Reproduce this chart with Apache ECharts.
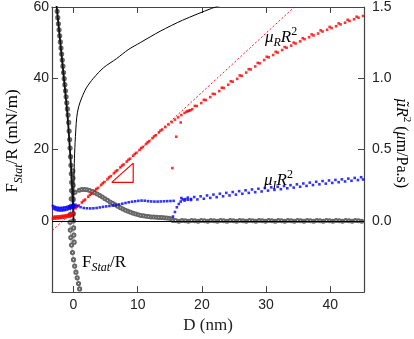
<!DOCTYPE html>
<html><head><meta charset="utf-8">
<script src="https://cdn.jsdelivr.net/npm/echarts@6/dist/echarts.min.js"></script>
<style>html,body{margin:0;padding:0;background:#fff}#c{width:414px;height:339px}</style>
</head><body><div id="c"></div>
<script>
// ---- tick labels ----
const xTicks = [0, 10, 20, 30, 40];
const xRange = [-3.35, 45.25];
const yLeftRange = [-20, 60];
const yRightRange = [-0.5, 1.5];

// ---- F_Stat/R (left axis, mN/m), grey open circles ----
const fApproach = [[-2.65,60.5],[-2.55,58.8],[-2.45,57],[-2.35,55.3],[-2.25,53.6],[-2.15,51.9],[-2.05,50.2],[-1.95,48.5],[-1.85,46.8],[-1.75,45.1],[-1.65,43.4],[-1.55,41.6],[-1.45,39.9],[-1.35,38.2],[-1.25,36.5],[-1.15,34.8],[-1.05,33.1],[-0.95,31.4],[-0.85,29.7],[-0.75,27.6],[-0.68,25.2],[-0.6,22.8],[-0.53,20.4],[-0.46,18],[-0.4,15.6],[-0.34,13.2],[-0.29,10.8],[-0.3,8.5],[-0.35,6.2],[-0.42,4],[-0.48,1.8],[-0.53,-0.4],[-0.5,-2.6],[-0.42,-4.7],[-0.3,-6.8],[-0.16,-8.9],[0.0,-10.9],[0.18,-12.7],[0.38,-14.4],[0.58,-16],[0.78,-17.6],[0.95,-19.1],[1.08,-20.4]];
const fContact = [[-0.1,14],[-0.08,12],[-0.06,10],[-0.05,8],[-0.04,6],[-0.03,4],[-0.02,2],[0,0],[0.02,-2],[0.05,-4],[0.1,-6]];
const fRetract = [[0.25,8.0],[0.9,8.6],[1.3,8.8],[1.7,8.8],[2.1,8.7],[2.5,8.5],[2.9,8.2],[3.3,7.9],[3.7,7.5],[4.1,7.1],[4.5,6.7],[4.9,6.2],[5.3,5.8],[5.7,5.3],[6.1,4.9],[6.5,4.5],[6.9,4.1],[7.3,3.7],[7.7,3.3],[8.1,3.0],[8.5,2.7],[8.9,2.4],[9.3,2.1],[9.7,1.9],[10.1,1.7],[10.5,1.5],[10.9,1.4],[11.3,1.3],[11.7,1.2],[12.1,1.1],[12.5,1.05],[12.9,1.0],[13.3,0.95],[13.7,0.9],[14.1,0.85],[14.5,0.8],[14.9,0.75],[15.3,0.5],[15.5,0.1],
 [15.9,0.1],[16.4,-0.1],[16.9,0.1],[17.4,0],[17.9,-0.1],[18.4,0.1],[18.9,0],[19.4,-0.1],[19.9,0.1],[20.4,0],[20.9,-0.1],[21.4,0.1],[21.9,0],[22.4,-0.1],[22.9,0.1],[23.4,0],[23.9,-0.1],[24.4,0.1],[24.9,0],[25.4,-0.1],[25.9,0.1],[26.4,0],[26.9,-0.1],[27.4,0.1],[27.9,0],[28.4,-0.1],[28.9,0.1],[29.4,0],[29.9,-0.1],[30.4,0.1],[30.9,0],[31.4,-0.1],[31.9,0.1],[32.4,0],[32.9,-0.1],[33.4,0.1],[33.9,0],[34.4,-0.1],[34.9,0.1],[35.4,0],[35.9,-0.1],[36.4,0.1],[36.9,0],[37.4,-0.1],[37.9,0.1],[38.4,0],[38.9,-0.1],[39.4,0.1],[39.9,0],[40.4,-0.1],[40.9,0.1],[41.4,0],[41.9,-0.1],[42.4,0.1],[42.9,0],[43.4,-0.1],[43.9,0.1],[44.4,0],[44.9,-0.1]];
// black lines (left axis)
const steepLine = [[-2.65,60.5],[-1.0,31],[-0.45,17],[-0.2,9],[-0.05,3],[0,0]];
const thinCurve = [[0,0],[0.05,8],[0.12,16],[0.25,22],[0.5,29],[0.8,32],[1.28,34.5],[2,37.3],[3.1,40],[4.7,43],[6.7,45.5],[8.5,48],[10.4,50],[13.5,53.2],[17,56.3],[21.5,59.6],[23.5,60.8]];
const slopeTriangle = [[5.95,10.8],[9.3,16.2],[9.3,10.8],[5.95,10.8]];

// ---- mu_R R^2 (right axis, um/Pa.s), red ----
const muRFit = [[-3.3,-0.068],[34.4,1.5]];
const muRLeftA = [[-3.2,0.015],[-2.95,0.016],[-2.7,0.017],[-2.45,0.018],[-2.2,0.019],[-1.95,0.021],[-1.7,0.022],[-1.45,0.024],[-1.2,0.026],[-0.95,0.028],[-0.7,0.03],[-0.45,0.032],[-0.2,0.036]];
const muRLeftB = [[-3.1,0.028],[-2.85,0.029],[-2.6,0.03],[-2.35,0.031],[-2.1,0.032],[-1.85,0.034],[-1.6,0.035],[-1.35,0.037],[-1.1,0.039],[-0.85,0.042],[-0.6,0.045],[-0.35,0.048],[-0.1,0.053]];
const muRMain = [[0.3,0.088],[0.8,0.108],[1.3,0.129],[1.8,0.149],[2.3,0.170],[2.8,0.190],[3.3,0.211],[3.8,0.231],[4.3,0.252],[4.8,0.272],[5.3,0.293],[5.8,0.313],[6.3,0.334],[6.8,0.354],[7.3,0.375],[7.8,0.395],[8.3,0.416],[8.8,0.436],[9.3,0.457],[9.8,0.477],[10.3,0.498],[10.8,0.518],[11.3,0.539],[11.8,0.559],[12.3,0.580],[12.8,0.600],[13.3,0.620],[13.8,0.640],[14.3,0.658],[14.8,0.676],[15.3,0.693],[15.8,0.710],[16.3,0.726],[16.8,0.742],[17.3,0.757],[17.6,0.765],[17.8,0.770],[18.0,0.772],[18.2,0.776],[18.5,0.783],[19.2,0.805],[19.9,0.826],[20.6,0.847],[21.3,0.868],[22.0,0.889],[22.7,0.91],[23.4,0.932],[24.1,0.955],[24.8,0.976],[25.5,0.996],[26.2,1.017],[26.9,1.04],[27.6,1.062],[28.3,1.083],[29.0,1.105],[29.7,1.128],[30.4,1.147],[31.1,1.163],[31.8,1.18],[32.5,1.198],[33.2,1.214],[33.9,1.229],[34.6,1.244],[35.3,1.259],[36.0,1.274],[36.7,1.288],[37.4,1.3],[38.1,1.314],[38.8,1.328],[39.5,1.34],[40.2,1.352],[40.9,1.365],[41.6,1.378],[42.3,1.39],[43.0,1.402],[43.7,1.414],[44.4,1.425],[45.1,1.437]];
const muRRow2 = [[0.55,0.1],[1.55,0.141],[2.55,0.182],[3.55,0.223],[4.55,0.264],[5.55,0.305],[6.55,0.346],[7.55,0.387],[8.55,0.428],[9.55,0.469],[10.55,0.51],[11.55,0.551],[12.55,0.592],[13.55,0.633],[18.9,0.806],[20.3,0.849],[21.7,0.891],[23.1,0.934],[24.5,0.979],[25.9,1.02],[27.3,1.064],[28.7,1.108],[30.1,1.151],[31.5,1.186],[32.9,1.219],[34.3,1.25],[35.7,1.281],[37.1,1.308],[38.5,1.336],[39.9,1.36],[41.3,1.385],[42.7,1.41],[44.1,1.432]];
const muROutliers = [[15.4,0.37],[16.0,0.59],[16.7,0.69]];

// ---- mu_I R^2 (right axis), blue ----
const muILeftA = [[-3.2,0.104],[-2.95,0.098],[-2.7,0.094],[-2.45,0.091],[-2.2,0.09],[-1.95,0.09],[-1.7,0.091],[-1.45,0.093],[-1.2,0.095],[-0.95,0.098],[-0.7,0.101],[-0.45,0.104],[-0.2,0.107],[0.05,0.11],[0.3,0.113]];
const muILeftB = [[-3.1,0.086],[-2.85,0.08],[-2.6,0.076],[-2.35,0.074],[-2.1,0.073],[-1.85,0.073],[-1.6,0.074],[-1.35,0.076],[-1.1,0.079],[-0.85,0.082],[-0.6,0.086],[-0.35,0.09],[-0.1,0.094],[0.15,0.098]];
const muIMain = [[0.6,0.104],[1.1,0.096],[1.6,0.09],[2.1,0.088],[2.6,0.087],[3.1,0.088],[3.6,0.09],[4.1,0.094],[4.6,0.098],[5.1,0.101],[5.6,0.104],[6.1,0.107],[6.6,0.11],[7.1,0.115],[7.6,0.12],[8.1,0.125],[8.6,0.13],[9.1,0.134],[9.6,0.137],[10.1,0.14],[10.6,0.142],[11.1,0.141],[11.6,0.138],[12.1,0.136],[12.6,0.135],[13.1,0.135],[13.6,0.136],[14.1,0.137],[14.6,0.138],[15.1,0.139],[15.6,0.14]];
const muIDrop = [[15.5,0.03],[15.8,0.062],[16.1,0.095],[16.4,0.118],[16.7,0.135],[17.0,0.15],[17.4,0.152],[17.8,0.148],[18.3,0.153]];
const muIUpper = [[16.8,0.16],[17.8,0.163],[18.8,0.167],[19.8,0.172],[20.8,0.178],[21.8,0.184],[22.8,0.19],[23.8,0.196],[24.8,0.202],[25.8,0.208],[26.8,0.214],[27.8,0.22],[28.8,0.225],[29.8,0.23],[30.8,0.235],[31.8,0.239],[32.8,0.244],[33.8,0.25],[34.8,0.256],[35.8,0.262],[36.8,0.268],[37.8,0.274],[38.8,0.279],[39.8,0.283],[40.8,0.287],[41.8,0.291],[42.8,0.296],[43.8,0.301],[44.8,0.306]];
const muILower = [[17.3,0.142],[18.3,0.146],[19.3,0.15],[20.3,0.155],[21.3,0.161],[22.3,0.166],[23.3,0.172],[24.3,0.178],[25.3,0.184],[26.3,0.19],[27.3,0.196],[28.3,0.201],[29.3,0.206],[30.3,0.212],[31.3,0.217],[32.3,0.222],[33.3,0.228],[34.3,0.233],[35.3,0.239],[36.3,0.245],[37.3,0.251],[38.3,0.256],[39.3,0.261],[40.3,0.266],[41.3,0.271],[42.3,0.276],[43.3,0.281],[44.3,0.286],[45.1,0.29]];

const RED = '#ff0000', BLUE = '#0000ff', GREY = '#666666', AX = '#444444';
const SERIF = '"Liberation Serif","DejaVu Serif",serif';
const SANS = '"Liberation Sans",Arial,sans-serif';

function richSet(color, size) {
  return {
    r: {fontFamily: SERIF, fontSize: size, color: color, lineHeight: size + 6, verticalAlign: 'middle'},
    i: {fontFamily: SERIF, fontStyle: 'italic', fontSize: size, color: color, lineHeight: size + 6, verticalAlign: 'middle'},
    t: {fontFamily: '"DejaVu Serif",serif', fontStyle: 'italic', fontSize: size - 2, color: color, lineHeight: size + 6, verticalAlign: 'middle'},
    s: {fontFamily: SERIF, fontStyle: 'italic', fontSize: Math.round(size * 0.68), color: color, verticalAlign: 'bottom'},
    p: {fontFamily: SERIF, fontSize: Math.round(size * 0.68), color: color, verticalAlign: 'top'}
  };
}

const chart = echarts.init(document.getElementById('c'), null, {renderer: 'canvas'});

const dotStyle = (c) => ({color: c});
const circ = {color: GREY, borderWidth: 0.7};
const grid = {left: 52, right: 50, top: 6, bottom: 41};

const xBase = {
  type: 'value', min: xRange[0], max: xRange[1],
  axisLine: {show: true, onZero: false, lineStyle: {color: AX, width: 1.2}},
  axisTick: {show: true, inside: true, length: 6, customValues: xTicks, lineStyle: {color: AX}},
  splitLine: {show: false}
};

chart.setOption({
  animation: false,
  grid: grid,
  xAxis: [
    Object.assign({}, xBase, {position: 'bottom',
      axisLabel: {customValues: xTicks, color: '#222', fontFamily: SANS, fontSize: 14, margin: 6},
      name: 'D (nm)', nameLocation: 'middle', nameGap: 22,
      nameTextStyle: {fontFamily: SERIF, fontSize: 17, color: '#222'}}),
    Object.assign({}, xBase, {position: 'top', axisLabel: {show: false}})
  ],
  yAxis: [
    {type: 'value', min: yLeftRange[0], max: yLeftRange[1], interval: 20, position: 'left',
     axisLine: {show: true, onZero: false, lineStyle: {color: AX, width: 1.2}},
     axisTick: {show: true, inside: true, length: 6, lineStyle: {color: AX}},
     axisLabel: {showMinLabel: false, color: '#222', fontFamily: SANS, fontSize: 14, margin: 3},
     splitLine: {show: false}},
    {type: 'value', min: yRightRange[0], max: yRightRange[1], interval: 0.5, position: 'right',
     axisLine: {show: true, onZero: false, lineStyle: {color: AX, width: 1.2}},
     axisTick: {show: true, inside: true, length: 6, lineStyle: {color: AX}},
     axisLabel: {showMinLabel: false, color: '#222', fontFamily: SANS, fontSize: 14, margin: 8,
                 formatter: (v) => v.toFixed(1)},
     splitLine: {show: false}}
  ],
  graphic: [
    {type: 'text', x: 13, y: 141, rotation: Math.PI / 2,
     style: {text: '{r|F}{s|Stat}{r|/R (mN/m)}', rich: richSet('#222', 17), align: 'center', verticalAlign: 'middle'}},
    {type: 'text', x: 401, y: 143, rotation: -Math.PI / 2,
     style: {text: '{t|\u03BC\u0303}{i|R}{p|2}{r| (}{i|\u03BC}{r|m/Pa.s)}', rich: richSet('#222', 16), align: 'center', verticalAlign: 'middle'}},
    {type: 'text', left: 265, top: 26,
     style: {text: '{i|\u03BC}{s|R}{i|R}{p|2}', rich: richSet(RED, 17)}},
    {type: 'text', left: 264, top: 169,
     style: {text: '{i|\u03BC}{s|I}{i|R}{p|2}', rich: richSet(BLUE, 17)}},
    {type: 'text', left: 82, top: 254,
     style: {text: '{r|F}{s|Stat}{r|/R}', rich: richSet('#444', 17)}}
  ],
  series: [
    {type: 'line', xAxisIndex: 0, yAxisIndex: 0, data: thinCurve, showSymbol: false, smooth: 0.3,
     lineStyle: {color: '#000', width: 1}, clip: true, z: 3,
     markLine: {silent: true, symbol: 'none', label: {show: false},
       lineStyle: {color: '#000', width: 1.2, type: 'solid'}, data: [{yAxis: 0}]}},
    {type: 'line', yAxisIndex: 0, data: fApproach, symbol: 'emptyCircle', symbolSize: 3.2,
     lineStyle: {color: '#999', width: 0.8}, itemStyle: circ, clip: true, z: 2},
    {type: 'line', yAxisIndex: 0, data: fContact, symbol: 'emptyCircle', symbolSize: 3.2,
     lineStyle: {color: '#999', width: 0.8}, itemStyle: circ, clip: true, z: 2},
    {type: 'line', yAxisIndex: 0, data: fRetract, symbol: 'emptyCircle', symbolSize: 3,
     lineStyle: {color: '#bbb', width: 0.5}, itemStyle: circ, clip: true, z: 2},
    {type: 'line', yAxisIndex: 0, data: steepLine, showSymbol: false, smooth: 0.2,
     lineStyle: {color: '#111', width: 1.8}, clip: true, z: 3},
    {type: 'line', yAxisIndex: 1, data: muRFit, showSymbol: false,
     lineStyle: {color: RED, width: 0.9, type: [2, 2]}, clip: true, z: 4},
    {type: 'scatter', yAxisIndex: 1, data: muRLeftA.concat(muRLeftB, muRMain, muRRow2, muROutliers),
     symbol: 'rect', symbolSize: 2.6, itemStyle: dotStyle(RED), z: 5},
    {type: 'scatter', yAxisIndex: 1, data: muILeftA.concat(muILeftB, muIMain, muIDrop, muIUpper, muILower),
     symbol: 'rect', symbolSize: 2.6, itemStyle: dotStyle(BLUE), z: 5},
    {type: 'line', yAxisIndex: 0, data: slopeTriangle, showSymbol: false,
     lineStyle: {color: RED, width: 1.2}, z: 5}
  ]
});
</script></body></html>
